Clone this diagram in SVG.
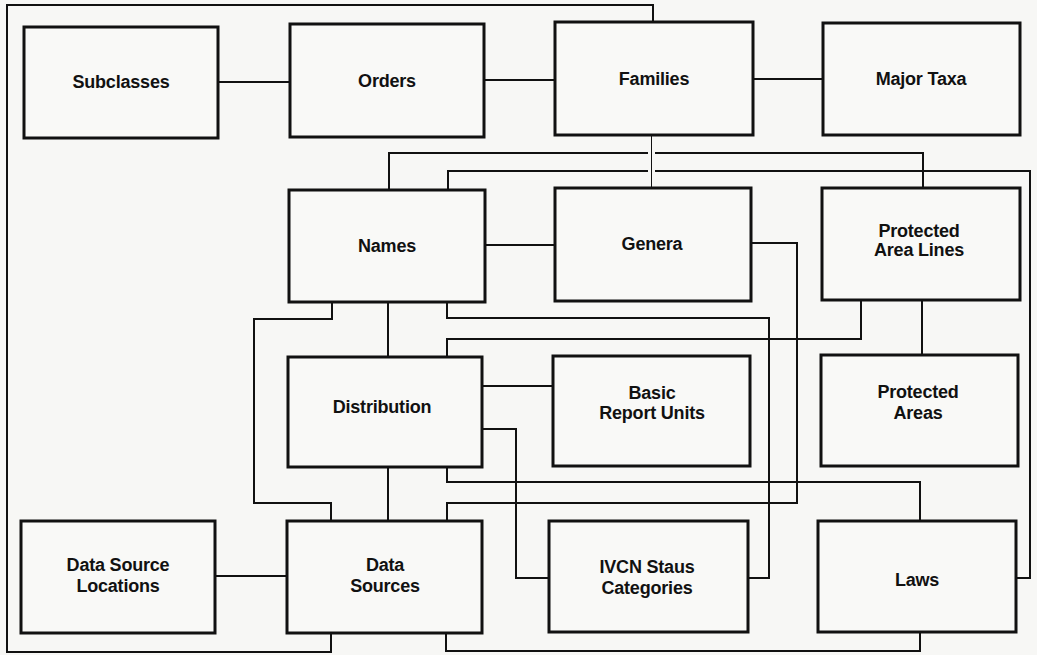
<svg xmlns="http://www.w3.org/2000/svg" width="1037" height="655" viewBox="0 0 1037 655">
<style>
.box{fill:#f9f9f7;stroke:#111;stroke-width:3}
.c{fill:none;stroke:#111;stroke-width:2}
.thin{fill:none;stroke:#111;stroke-width:1}
.halo{fill:none;stroke:#f7f7f5;stroke-width:7}
text{font-family:"Liberation Sans",Arial,sans-serif;font-size:18px;font-weight:bold;fill:#111;text-anchor:middle;letter-spacing:-0.2px}
</style>
<rect width="1037" height="655" fill="#f7f7f5"/>
<g id="connectors">
<path class="c" d="M218,82 H290"/>
<path class="c" d="M484,80 H555"/>
<path class="c" d="M753,79 H823"/>
<path class="c" d="M653,22 V5 H7 V652 H331 V633"/>
<path class="c" d="M389,190 V153 H923 V188"/>
<path class="c" d="M448,190 V171 H1030 V578 H1016"/>
<path class="halo" d="M651.5,145 V178"/>
<path class="thin" d="M651.5,135 V188"/>
<path class="c" d="M485,245 H555"/>
<path class="c" d="M751,243 H797 V503 H447 V521"/>
<path class="c" d="M447,302 V318 H769 V578 H748"/>
<path class="c" d="M447,357 V339 H861 V300"/>
<path class="c" d="M482,429 H516 V578 H549"/>
<path class="c" d="M482,386 H553"/>
<path class="c" d="M388,302 V357"/>
<path class="c" d="M388,467 V521"/>
<path class="c" d="M922,300 V355"/>
<path class="c" d="M215,576 H287"/>
<path class="c" d="M332,302 V319 H254 V503 H331 V521"/>
<path class="c" d="M446,633 V651 H920 V632"/>
<path class="c" d="M447,467 V482 H920 V521"/>
</g>
<g id="subclasses"><rect class="box" x="24" y="27" width="194" height="111"/><text x="121" y="88">Subclasses</text></g>
<g id="orders"><rect class="box" x="290" y="24" width="194" height="113"/><text x="387" y="87">Orders</text></g>
<g id="families"><rect class="box" x="555" y="22" width="198" height="113"/><text x="654" y="85">Families</text></g>
<g id="major-taxa"><rect class="box" x="823" y="23" width="197" height="112"/><text x="921" y="85">Major Taxa</text></g>
<g id="names"><rect class="box" x="289" y="190" width="196" height="112"/><text x="387" y="252">Names</text></g>
<g id="genera"><rect class="box" x="555" y="188" width="196" height="113"/><text x="652" y="250">Genera</text></g>
<g id="protected-area-lines"><rect class="box" x="822" y="188" width="198" height="112"/><text x="919" y="237">Protected</text><text x="919" y="256">Area Lines</text></g>
<g id="distribution"><rect class="box" x="288" y="357" width="194" height="110"/><text x="382" y="413">Distribution</text></g>
<g id="basic-report-units"><rect class="box" x="553" y="356" width="197" height="110"/><text x="652" y="399">Basic</text><text x="652" y="419">Report Units</text></g>
<g id="protected-areas"><rect class="box" x="821" y="355" width="197" height="111"/><text x="918" y="398">Protected</text><text x="918" y="419">Areas</text></g>
<g id="data-source-locations"><rect class="box" x="21" y="521" width="194" height="112"/><text x="118" y="571">Data Source</text><text x="118" y="592">Locations</text></g>
<g id="data-sources"><rect class="box" x="287" y="521" width="195" height="112"/><text x="385" y="571">Data</text><text x="385" y="592">Sources</text></g>
<g id="ivcn-status-categories"><rect class="box" x="549" y="521" width="199" height="111"/><text x="647" y="573">IVCN Staus</text><text x="647" y="594">Categories</text></g>
<g id="laws"><rect class="box" x="818" y="521" width="198" height="111"/><text x="917" y="586">Laws</text></g>
</svg>
